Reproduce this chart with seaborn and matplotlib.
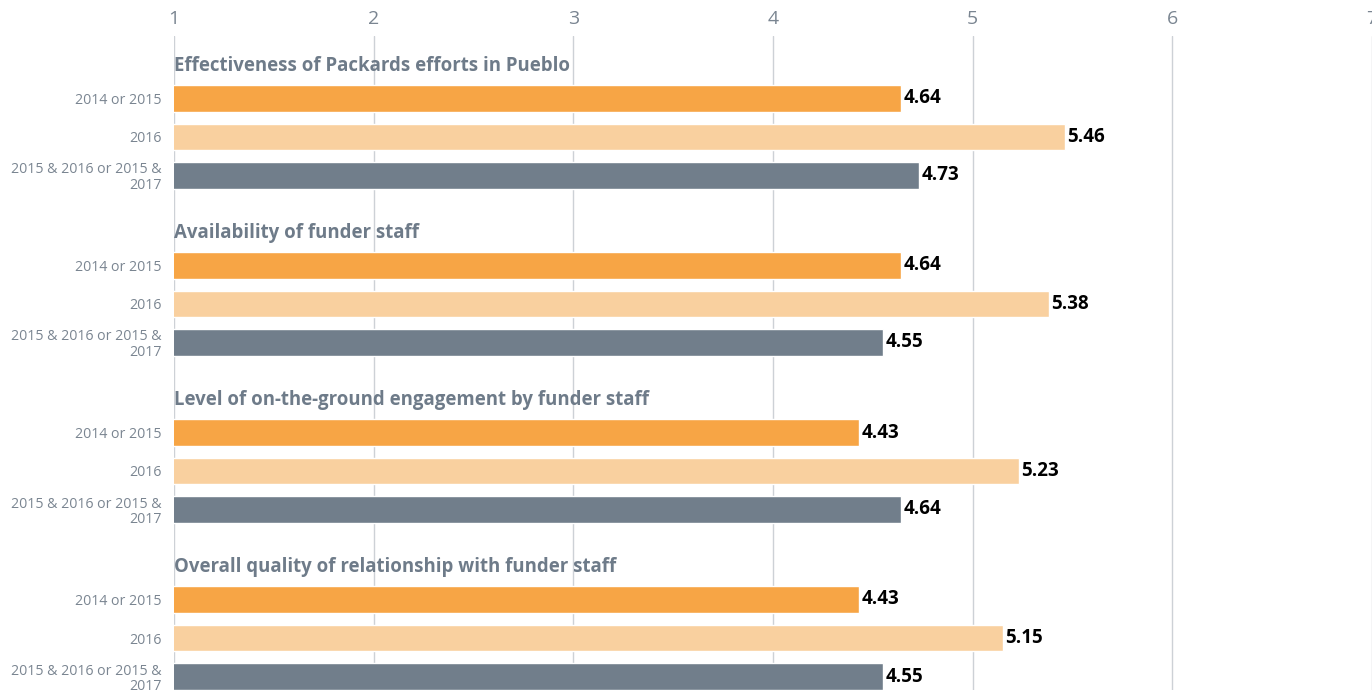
import numpy as np
import pandas as pd
import matplotlib
matplotlib.use("Agg")
import matplotlib.pyplot as plt
import seaborn as sns

# ---- data ----
questions = [
    "Effectiveness of Packards efforts in Pueblo",
    "Availability of funder staff",
    "Level of on-the-ground engagement by funder staff",
    "Overall quality of relationship with funder staff",
]
periods = ["2014 or 2015", "2016", "2015 & 2016 or 2015 &\n2017"]
scores_2014_2015 = [4.64, 4.64, 4.43, 4.43]
scores_2016 = [5.46, 5.38, 5.23, 5.15]
scores_2015_2017 = [4.73, 4.55, 4.64, 4.55]
x_ticks = [1, 2, 3, 4, 5, 6, 7]

# ---- style ----
sns.set_theme(style="white")
plt.rcParams["font.family"] = ["Open Sans", "DejaVu Sans"]

colors = ["#F7A545", "#F9D09F", "#717E8B"]
title_color = "#6E7B89"
tick_color = "#7A8591"
grid_color = "#CDD1D6"

# layout: bar slot = 1 unit, groups spaced a bit more than 4 slots apart
GROUP_STEP = 167 / 38.5
TITLE_OFFSET = -0.84

rows = []
series = [scores_2014_2015, scores_2016, scores_2015_2017]
for g, q in enumerate(questions):
    for k, p in enumerate(periods):
        rows.append({
            "question": q,
            "period": p,
            "score": series[k][g],
            "pos": g * GROUP_STEP + k,
        })
df = pd.DataFrame(rows)

fig = plt.figure(figsize=(13.72, 6.90), dpi=100)
ax = fig.add_axes([174 / 1372, 0, 1 - 174 / 1372, 1 - 36 / 690])

sns.barplot(
    data=df, x="score", y="pos", hue="period", hue_order=periods,
    palette=colors, orient="h", native_scale=True, dodge=False,
    width=0.7, legend=False, ax=ax, zorder=2, saturation=1,
)

ax.set_xlim(1, 7)
# pixel mapping: bar slot = 38.5 px, first bar centre at 98.5 px
ax.set_ylim((690 - 98.5) / 38.5, (36 - 98.5) / 38.5)

ax.set_xticks(x_ticks)
ax.set_xticklabels([str(t) for t in x_ticks])
ax.xaxis.tick_top()
ax.tick_params(axis="x", length=0, pad=6, labelsize=14, labelcolor=tick_color)

ax.set_yticks(df["pos"])
ax.set_yticklabels(df["period"], linespacing=1.05)
ax.tick_params(axis="y", length=0, pad=9, labelsize=10.2, labelcolor=tick_color)

ax.set_xlabel("")
ax.set_ylabel("")
for s in ax.spines.values():
    s.set_visible(False)

ax.grid(axis="x", color=grid_color, linewidth=1, zorder=0)
ax.grid(axis="y", visible=False)
ax.set_axisbelow(True)

# value labels
for _, r in df.iterrows():
    ax.text(r["score"] + 0.015, r["pos"], f"{r['score']:.2f}",
            va="center", ha="left", fontsize=13.5, fontweight="bold",
            color="black", zorder=3)

# group titles
for g, q in enumerate(questions):
    ax.text(1, g * GROUP_STEP + TITLE_OFFSET, q, va="center", ha="left",
            fontsize=13.4, fontweight="bold", color=title_color, zorder=3)

fig.savefig("out.png", dpi=100, facecolor="white")
